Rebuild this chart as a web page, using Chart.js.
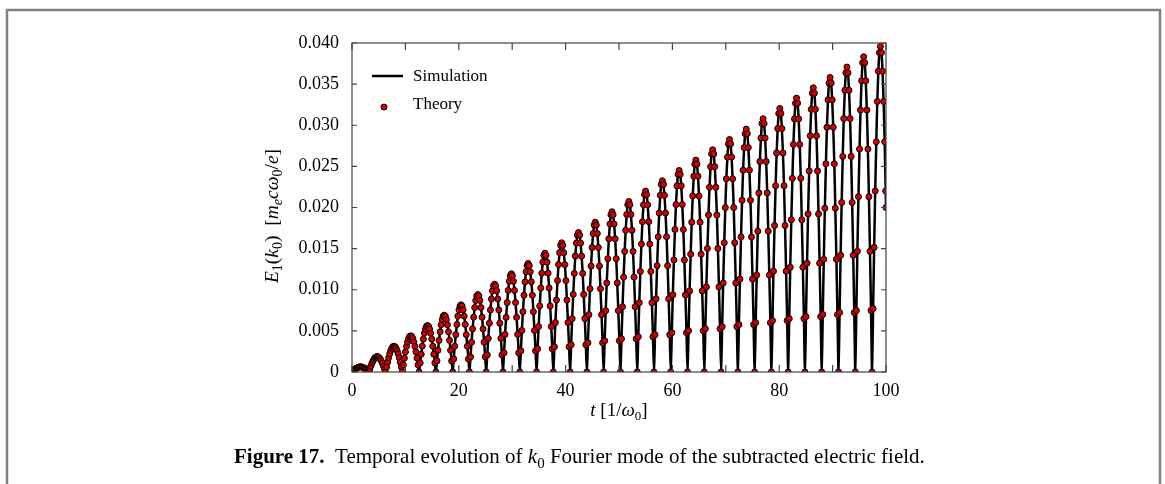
<!DOCTYPE html>
<html>
<head>
<meta charset="utf-8">
<script src="https://cdn.jsdelivr.net/npm/chart.js@4.4.1/dist/chart.umd.min.js"></script>
<style>
   html, body { margin: 0; padding: 0; background: #fff; }
</style>
</head>
<body>
<canvas id="myChart" width="1165" height="484"></canvas>
<script>
// t [1/omega0], one row per oscillation lobe
const timeValues = [
   0, 0.20, 0.39, 0.59, 0.79, 0.98, 1.18, 1.37, 1.57, 1.77, 1.96, 2.16, 2.36, 2.55, 2.75, 2.95,
   3.14, 3.34, 3.53, 3.73, 3.93, 4.12, 4.32, 4.51, 4.71, 4.91, 5.10, 5.30, 5.50, 5.69, 5.89, 6.09,
   6.28, 6.48, 6.67, 6.87, 7.07, 7.26, 7.46, 7.65, 7.85, 8.05, 8.24, 8.44, 8.64, 8.83, 9.03, 9.23,
   9.42, 9.62, 9.81, 10.01, 10.21, 10.40, 10.60, 10.79, 10.99, 11.19, 11.38, 11.58, 11.78, 11.97, 12.17, 12.37,
   12.57, 12.77, 12.96, 13.16, 13.36, 13.55, 13.75, 13.94, 14.14, 14.34, 14.53, 14.73, 14.93, 15.12, 15.32, 15.52,
   15.71, 15.91, 16.10, 16.30, 16.50, 16.69, 16.89, 17.08, 17.28, 17.48, 17.67, 17.87, 18.07, 18.26, 18.46, 18.66,
   18.85, 19.05, 19.24, 19.44, 19.64, 19.83, 20.03, 20.22, 20.42, 20.62, 20.81, 21.01, 21.21, 21.40, 21.60, 21.80,
   21.99, 22.19, 22.38, 22.58, 22.78, 22.97, 23.17, 23.36, 23.56, 23.76, 23.95, 24.15, 24.35, 24.54, 24.74, 24.94,
   25.13, 25.33, 25.52, 25.72, 25.92, 26.11, 26.31, 26.50, 26.70, 26.90, 27.09, 27.29, 27.49, 27.68, 27.88, 28.08,
   28.27, 28.47, 28.66, 28.86, 29.06, 29.25, 29.45, 29.64, 29.84, 30.04, 30.23, 30.43, 30.63, 30.82, 31.02, 31.22,
   31.42, 31.62, 31.81, 32.01, 32.21, 32.40, 32.60, 32.79, 32.99, 33.19, 33.38, 33.58, 33.78, 33.97, 34.17, 34.37,
   34.56, 34.76, 34.95, 35.15, 35.35, 35.54, 35.74, 35.93, 36.13, 36.33, 36.52, 36.72, 36.92, 37.11, 37.31, 37.51,
   37.70, 37.90, 38.09, 38.29, 38.49, 38.68, 38.88, 39.07, 39.27, 39.47, 39.66, 39.86, 40.06, 40.25, 40.45, 40.65,
   40.84, 41.04, 41.23, 41.43, 41.63, 41.82, 42.02, 42.21, 42.41, 42.61, 42.80, 43.00, 43.20, 43.39, 43.59, 43.79,
   43.98, 44.18, 44.37, 44.57, 44.77, 44.96, 45.16, 45.35, 45.55, 45.75, 45.94, 46.14, 46.34, 46.53, 46.73, 46.93,
   47.12, 47.32, 47.51, 47.71, 47.91, 48.10, 48.30, 48.49, 48.69, 48.89, 49.08, 49.28, 49.48, 49.67, 49.87, 50.07,
   50.27, 50.47, 50.66, 50.86, 51.06, 51.25, 51.45, 51.64, 51.84, 52.04, 52.23, 52.43, 52.63, 52.82, 53.02, 53.22,
   53.41, 53.61, 53.80, 54.00, 54.20, 54.39, 54.59, 54.78, 54.98, 55.18, 55.37, 55.57, 55.77, 55.96, 56.16, 56.36,
   56.55, 56.75, 56.94, 57.14, 57.34, 57.53, 57.73, 57.92, 58.12, 58.32, 58.51, 58.71, 58.91, 59.10, 59.30, 59.50,
   59.69, 59.89, 60.08, 60.28, 60.48, 60.67, 60.87, 61.06, 61.26, 61.46, 61.65, 61.85, 62.05, 62.24, 62.44, 62.64,
   62.83, 63.03, 63.22, 63.42, 63.62, 63.81, 64.01, 64.20, 64.40, 64.60, 64.79, 64.99, 65.19, 65.38, 65.58, 65.78,
   65.97, 66.17, 66.36, 66.56, 66.76, 66.95, 67.15, 67.34, 67.54, 67.74, 67.93, 68.13, 68.33, 68.52, 68.72, 68.92,
   69.12, 69.32, 69.51, 69.71, 69.91, 70.10, 70.30, 70.49, 70.69, 70.89, 71.08, 71.28, 71.48, 71.67, 71.87, 72.07,
   72.26, 72.46, 72.65, 72.85, 73.05, 73.24, 73.44, 73.63, 73.83, 74.03, 74.22, 74.42, 74.62, 74.81, 75.01, 75.21,
   75.40, 75.60, 75.79, 75.99, 76.19, 76.38, 76.58, 76.77, 76.97, 77.17, 77.36, 77.56, 77.76, 77.95, 78.15, 78.35,
   78.54, 78.74, 78.93, 79.13, 79.33, 79.52, 79.72, 79.91, 80.11, 80.31, 80.50, 80.70, 80.90, 81.09, 81.29, 81.49,
   81.68, 81.88, 82.07, 82.27, 82.47, 82.66, 82.86, 83.05, 83.25, 83.45, 83.64, 83.84, 84.04, 84.23, 84.43, 84.63,
   84.82, 85.02, 85.21, 85.41, 85.61, 85.80, 86.00, 86.19, 86.39, 86.59, 86.78, 86.98, 87.18, 87.37, 87.57, 87.77,
   87.96, 88.16, 88.35, 88.55, 88.75, 88.94, 89.14, 89.33, 89.53, 89.73, 89.92, 90.12, 90.32, 90.51, 90.71, 90.91,
   91.11, 91.31, 91.50, 91.70, 91.90, 92.09, 92.29, 92.48, 92.68, 92.88, 93.07, 93.27, 93.47, 93.66, 93.86, 94.06,
   94.25, 94.45, 94.64, 94.84, 95.04, 95.23, 95.43, 95.62, 95.82, 96.02, 96.21, 96.41, 96.61, 96.80, 97.00, 97.20,
   97.39, 97.59, 97.78, 97.98, 98.18, 98.37, 98.57, 98.76, 98.96, 99.16, 99.35, 99.55, 99.75, 99.94, 100
];

// |E1(k0)| [me c omega0 / e]
const fieldValues = [
   0, 0.00012, 0.00024, 0.00035, 0.00045, 0.00052, 0.00058, 0.00062, 0.00063, 0.00062, 0.00058, 0.00052, 0.00045, 0.00035, 0.00024, 0.00012,
   0, 0.00037, 0.00072, 0.00105, 0.00133, 0.00156, 0.00174, 0.00184, 0.00188, 0.00184, 0.00174, 0.00156, 0.00133, 0.00105, 0.00072, 0.00037,
   0, 0.00061, 0.00120, 0.00175, 0.00222, 0.00261, 0.00290, 0.00308, 0.00314, 0.00308, 0.00290, 0.00261, 0.00222, 0.00175, 0.00120, 0.00061,
   0, 0.00086, 0.00168, 0.00245, 0.00311, 0.00366, 0.00407, 0.00432, 0.00440, 0.00432, 0.00407, 0.00366, 0.00311, 0.00245, 0.00168, 0.00086,
   0, 0.00110, 0.00216, 0.00314, 0.00400, 0.00470, 0.00522, 0.00554, 0.00565, 0.00554, 0.00522, 0.00470, 0.00400, 0.00314, 0.00216, 0.00110,
   0, 0.00135, 0.00264, 0.00384, 0.00489, 0.00574, 0.00638, 0.00678, 0.00691, 0.00678, 0.00638, 0.00574, 0.00489, 0.00384, 0.00264, 0.00135,
   0, 0.00159, 0.00313, 0.00454, 0.00578, 0.00679, 0.00755, 0.00801, 0.00817, 0.00801, 0.00755, 0.00679, 0.00578, 0.00454, 0.00313, 0.00159,
   0, 0.00184, 0.00361, 0.00524, 0.00666, 0.00783, 0.00870, 0.00924, 0.00942, 0.00924, 0.00870, 0.00783, 0.00666, 0.00524, 0.00361, 0.00184,
   0, 0.00208, 0.00409, 0.00594, 0.00755, 0.00888, 0.00987, 0.01048, 0.01068, 0.01048, 0.00987, 0.00888, 0.00755, 0.00594, 0.00409, 0.00208,
   0, 0.00233, 0.00457, 0.00664, 0.00844, 0.00992, 0.01103, 0.01171, 0.01194, 0.01171, 0.01103, 0.00992, 0.00844, 0.00664, 0.00457, 0.00233,
   0, 0.00257, 0.00505, 0.00733, 0.00933, 0.01096, 0.01219, 0.01294, 0.01319, 0.01294, 0.01219, 0.01096, 0.00933, 0.00733, 0.00505, 0.00257,
   0, 0.00282, 0.00553, 0.00803, 0.01022, 0.01201, 0.01335, 0.01418, 0.01445, 0.01418, 0.01335, 0.01201, 0.01022, 0.00803, 0.00553, 0.00282,
   0, 0.00306, 0.00601, 0.00874, 0.01111, 0.01306, 0.01451, 0.01541, 0.01571, 0.01541, 0.01451, 0.01306, 0.01111, 0.00874, 0.00601, 0.00306,
   0, 0.00331, 0.00649, 0.00943, 0.01199, 0.01409, 0.01567, 0.01664, 0.01696, 0.01664, 0.01567, 0.01409, 0.01199, 0.00943, 0.00649, 0.00331,
   0, 0.00355, 0.00697, 0.01013, 0.01288, 0.01514, 0.01683, 0.01787, 0.01822, 0.01787, 0.01683, 0.01514, 0.01288, 0.01013, 0.00697, 0.00355,
   0, 0.00380, 0.00746, 0.01083, 0.01377, 0.01619, 0.01800, 0.01911, 0.01948, 0.01911, 0.01800, 0.01619, 0.01377, 0.01083, 0.00746, 0.00380,
   0, 0.00404, 0.00793, 0.01153, 0.01466, 0.01723, 0.01915, 0.02034, 0.02073, 0.02034, 0.01915, 0.01723, 0.01466, 0.01153, 0.00793, 0.00404,
   0, 0.00429, 0.00842, 0.01223, 0.01555, 0.01827, 0.02032, 0.02157, 0.02199, 0.02157, 0.02032, 0.01827, 0.01555, 0.01223, 0.00842, 0.00429,
   0, 0.00453, 0.00890, 0.01293, 0.01644, 0.01932, 0.02148, 0.02281, 0.02325, 0.02281, 0.02148, 0.01932, 0.01644, 0.01293, 0.00890, 0.00453,
   0, 0.00478, 0.00938, 0.01362, 0.01732, 0.02036, 0.02264, 0.02403, 0.02450, 0.02403, 0.02264, 0.02036, 0.01732, 0.01362, 0.00938, 0.00478,
   0, 0.00502, 0.00986, 0.01432, 0.01821, 0.02141, 0.02380, 0.02527, 0.02576, 0.02527, 0.02380, 0.02141, 0.01821, 0.01432, 0.00986, 0.00502,
   0, 0.00527, 0.01034, 0.01502, 0.01910, 0.02245, 0.02496, 0.02651, 0.02702, 0.02651, 0.02496, 0.02245, 0.01910, 0.01502, 0.01034, 0.00527,
   0, 0.00551, 0.01082, 0.01572, 0.01999, 0.02349, 0.02612, 0.02773, 0.02827, 0.02773, 0.02612, 0.02349, 0.01999, 0.01572, 0.01082, 0.00551,
   0, 0.00576, 0.01130, 0.01642, 0.02088, 0.02454, 0.02728, 0.02897, 0.02953, 0.02897, 0.02728, 0.02454, 0.02088, 0.01642, 0.01130, 0.00576,
   0, 0.00600, 0.01178, 0.01712, 0.02177, 0.02559, 0.02845, 0.03021, 0.03079, 0.03021, 0.02845, 0.02559, 0.02177, 0.01712, 0.01178, 0.00600,
   0, 0.00625, 0.01226, 0.01781, 0.02265, 0.02663, 0.02960, 0.03143, 0.03204, 0.03143, 0.02960, 0.02663, 0.02265, 0.01781, 0.01226, 0.00625,
   0, 0.00649, 0.01274, 0.01851, 0.02355, 0.02767, 0.03077, 0.03267, 0.03330, 0.03267, 0.03077, 0.02767, 0.02355, 0.01851, 0.01274, 0.00649,
   0, 0.00674, 0.01323, 0.01922, 0.02444, 0.02872, 0.03193, 0.03390, 0.03456, 0.03390, 0.03193, 0.02872, 0.02444, 0.01922, 0.01323, 0.00674,
   0, 0.00698, 0.01370, 0.01991, 0.02532, 0.02976, 0.03309, 0.03513, 0.03581, 0.03513, 0.03309, 0.02976, 0.02532, 0.01991, 0.01370, 0.00698,
   0, 0.00723, 0.01419, 0.02061, 0.02621, 0.03081, 0.03425, 0.03637, 0.03707, 0.03637, 0.03425, 0.03081, 0.02621, 0.02061, 0.01419, 0.00723,
   0, 0.00747, 0.01467, 0.02131, 0.02710, 0.03185, 0.03541, 0.03760, 0.03833, 0.03760, 0.03541, 0.03185, 0.02710, 0.02131, 0.01467, 0.00747,
   0, 0.00772, 0.01515, 0.02201, 0.02799, 0.03289, 0.03657, 0.03883, 0.03958, 0.03883, 0.03657, 0.03289, 0.02799, 0.02201, 0.02000
];

const xTicks = [0, 20, 40, 60, 80, 100];
const yTicks = ['0', '0.005', '0.010', '0.015', '0.020', '0.025', '0.030', '0.035', '0.040'];
const seriesNames = ['Simulation', 'Theory'];

const serif = '"Liberation Serif", "DejaVu Serif", serif';
const points = timeValues.map((t, i) => ({ x: t, y: fieldValues[i] }));

// draws a string made of parts: {t, i (italic), b (bold), s (subscript)}
function richText(ctx, parts, x, y, size, align) {
   const fontOf = p => (p.b ? 'bold ' : '') + (p.i ? 'italic ' : '') + (p.s ? Math.round(size * 0.7) : size) + 'px ' + serif;
   let w = 0;
   parts.forEach(p => { ctx.font = fontOf(p); w += ctx.measureText(p.t).width; });
   let cx = align === 'center' ? x - w / 2 : x;
   ctx.textAlign = 'left';
   ctx.textBaseline = 'alphabetic';
   parts.forEach(p => {
      ctx.font = fontOf(p);
      ctx.fillText(p.t, cx, y + (p.s ? size * 0.22 : 0));
      cx += ctx.measureText(p.t).width;
   });
}

const decorations = {
   id: 'decorations',
   beforeDraw(chart) {
      const c = chart.ctx;
      c.save();
      c.fillStyle = '#fff';
      c.fillRect(0, 0, chart.width, chart.height);
      // figure frame
      c.strokeStyle = '#808080';
      c.lineWidth = 2.5;
      c.beginPath();
      c.moveTo(7, 490);
      c.lineTo(7, 10);
      c.lineTo(1160, 10);
      c.lineTo(1160, 490);
      c.stroke();
      c.restore();
   },
   afterDraw(chart) {
      const c = chart.ctx;
      const a = chart.chartArea;
      const xs = chart.scales.x, ys = chart.scales.y;
      c.save();
      // axes box
      c.strokeStyle = '#444';
      c.lineWidth = 1.2;
      c.strokeRect(a.left, a.top, a.right - a.left, a.bottom - a.top);
      // inward ticks
      c.beginPath();
      for (let v = 0; v <= 100; v += 10) {
         const px = xs.getPixelForValue(v);
         c.moveTo(px, a.bottom); c.lineTo(px, a.bottom - 7);
         c.moveTo(px, a.top); c.lineTo(px, a.top + 7);
      }
      yTicks.forEach(t => {
         const py = ys.getPixelForValue(parseFloat(t));
         c.moveTo(a.left, py); c.lineTo(a.left + 5, py);
         c.moveTo(a.right, py); c.lineTo(a.right - 5, py);
      });
      c.stroke();

      // legend
      c.strokeStyle = '#000';
      c.lineWidth = 2.5;
      c.beginPath();
      c.moveTo(a.left + 20, 76); c.lineTo(a.left + 51, 76);
      c.stroke();
      c.fillStyle = '#d40000';
      c.lineWidth = 1;
      c.beginPath();
      c.arc(a.left + 32, 107, 3, 0, Math.PI * 2);
      c.fill(); c.stroke();
      c.fillStyle = '#000';
      richText(c, [{ t: seriesNames[0] }], a.left + 61, 81, 17);
      richText(c, [{ t: seriesNames[1] }], a.left + 61, 109, 17);

      // axis titles
      richText(c, [{ t: 't', i: true }, { t: ' [1/' }, { t: 'ω', i: true }, { t: '0', s: true }, { t: ']' }],
         (a.left + a.right) / 2, 416, 19, 'center');
      c.save();
      c.translate(278, 216);
      c.rotate(-Math.PI / 2);
      richText(c, [
         { t: 'E', i: true }, { t: '1', s: true }, { t: '(' }, { t: 'k', i: true }, { t: '0', s: true }, { t: ')  [' },
         { t: 'm', i: true }, { t: 'e', i: true, s: true }, { t: 'cω', i: true }, { t: '0', s: true },
         { t: '/' }, { t: 'e', i: true }, { t: ']' }
      ], 0, 0, 19.5, 'center');
      c.restore();

      // caption
      richText(c, [
         { t: 'Figure 17.', b: true }, { t: '  Temporal evolution of ' }, { t: 'k', i: true }, { t: '0', s: true },
         { t: ' Fourier mode of the subtracted electric field.' }
      ], 234, 463, 21);
      c.restore();
   }
};

var ctx = document.getElementById('myChart');
var myChart = new Chart(ctx, {
   type: 'scatter',
   data: {
      datasets: [
         {
            label: seriesNames[0],
            data: points,
            showLine: true,
            borderColor: '#000',
            borderWidth: 2.5,
            pointRadius: 0,
            tension: 0.2,
            order: 2,
         },
         {
            label: seriesNames[1],
            data: points,
            showLine: false,
            pointRadius: 3,
            pointBackgroundColor: '#d40000',
            pointBorderColor: '#000',
            pointBorderWidth: 1,
            order: 1,
         },
      ],
   },
   options: {
      responsive: false,
      animation: false,
      devicePixelRatio: 1,
      layout: { padding: { left: 0, right: 279, top: 43, bottom: 0 } },
      plugins: {
         legend: { display: false },
         tooltip: { enabled: false },
      },
      scales: {
         x: {
            type: 'linear',
            min: 0,
            max: 100,
            grid: { display: false, drawTicks: false },
            border: { display: false },
            afterFit: s => { s.height = 112; },
            ticks: {
               stepSize: 10,
               padding: 8,
               color: '#000',
               font: { family: serif, size: 18 },
               maxRotation: 0,
               autoSkip: false,
               callback: v => xTicks.includes(v) ? String(v) : '',
            },
         },
         y: {
            min: 0,
            max: 0.04,
            grid: { display: false, drawTicks: false },
            border: { display: false },
            afterFit: s => { s.width = 352; },
            ticks: {
               stepSize: 0.005,
               padding: 13,
               color: '#000',
               font: { family: serif, size: 18 },
               callback: (v, i) => yTicks[Math.round(v / 0.005)],
            },
         },
      },
   },
   plugins: [decorations],
});
</script>
</body>
</html>
